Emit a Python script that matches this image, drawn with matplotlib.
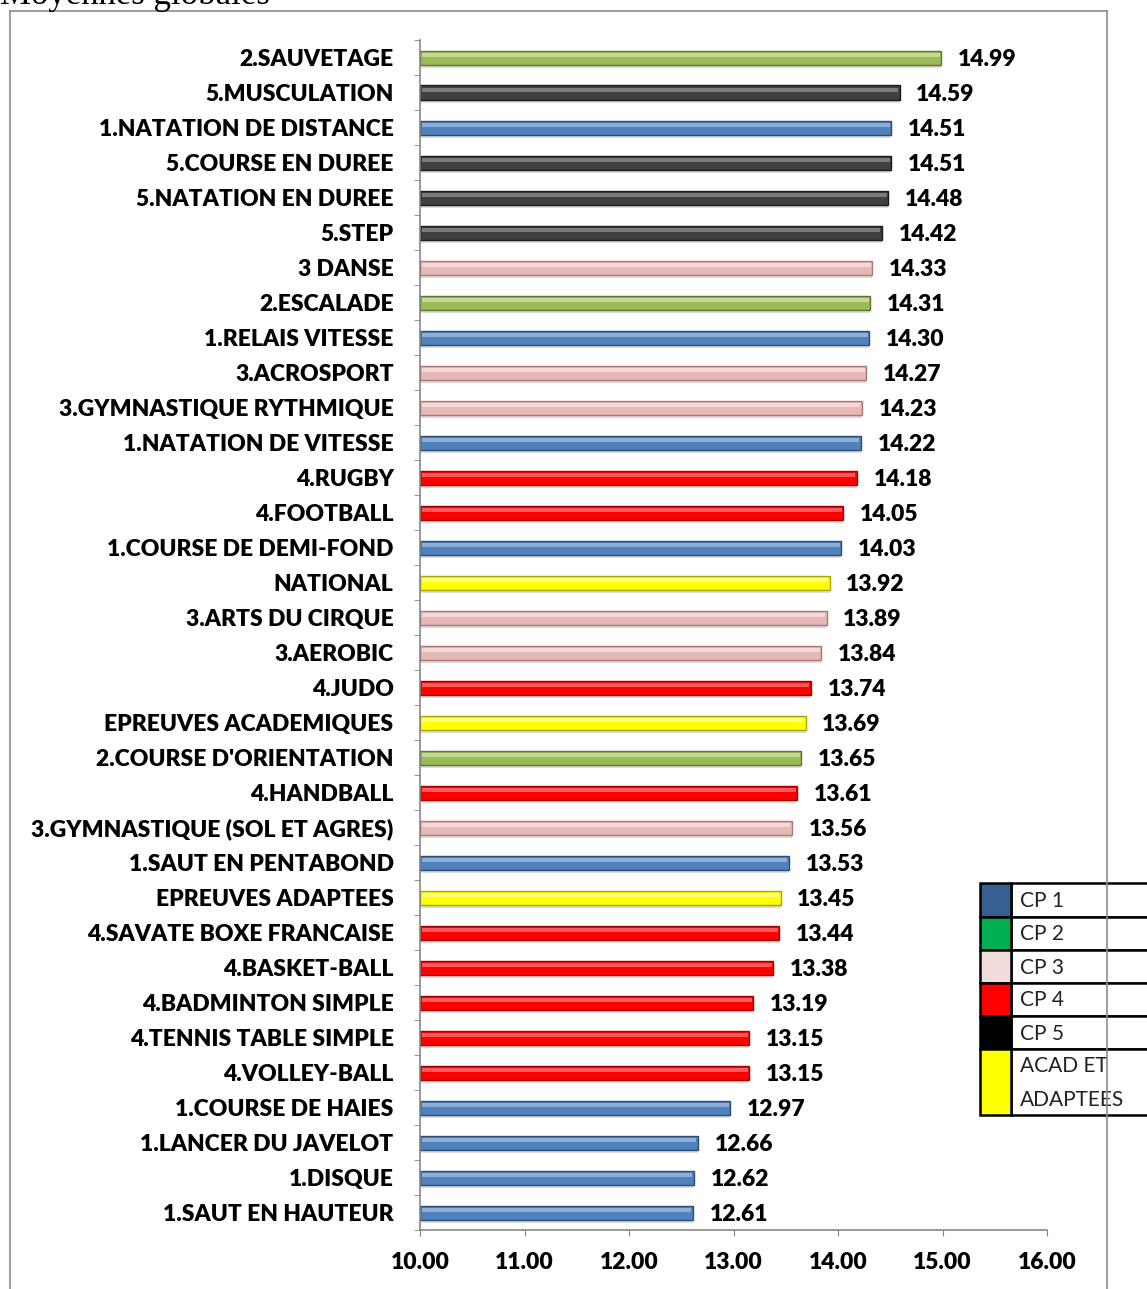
import matplotlib.pyplot as plt
import numpy as np
from matplotlib.patches import Rectangle
from matplotlib.lines import Line2D

labels = ['2.SAUVETAGE', '5.MUSCULATION', '1.NATATION DE DISTANCE', '5.COURSE EN DUREE',
          '5.NATATION EN DUREE', '5.STEP', '3 DANSE', '2.ESCALADE', '1.RELAIS VITESSE',
          '3.ACROSPORT', '3.GYMNASTIQUE RYTHMIQUE', '1.NATATION DE VITESSE', '4.RUGBY',
          '4.FOOTBALL', '1.COURSE DE DEMI-FOND', 'NATIONAL', '3.ARTS DU CIRQUE', '3.AEROBIC',
          '4.JUDO', 'EPREUVES ACADEMIQUES', "2.COURSE D'ORIENTATION", '4.HANDBALL',
          '3.GYMNASTIQUE (SOL ET AGRES)', '1.SAUT EN PENTABOND', 'EPREUVES ADAPTEES',
          '4.SAVATE BOXE FRANCAISE', '4.BASKET-BALL', '4.BADMINTON SIMPLE',
          '4.TENNIS TABLE SIMPLE', '4.VOLLEY-BALL', '1.COURSE DE HAIES', '1.LANCER DU JAVELOT',
          '1.DISQUE', '1.SAUT EN HAUTEUR']
values = [14.99, 14.59, 14.51, 14.51, 14.48, 14.42, 14.33, 14.31, 14.30, 14.27, 14.23, 14.22,
          14.18, 14.05, 14.03, 13.92, 13.89, 13.84, 13.74, 13.69, 13.65, 13.61, 13.56, 13.53,
          13.45, 13.44, 13.38, 13.19, 13.15, 13.15, 12.97, 12.66, 12.62, 12.61]
groups = ['CP2', 'CP5', 'CP1', 'CP5', 'CP5', 'CP5', 'CP3', 'CP2', 'CP1', 'CP3', 'CP3', 'CP1',
          'CP4', 'CP4', 'CP1', 'ACAD', 'CP3', 'CP3', 'CP4', 'ACAD', 'CP2', 'CP4', 'CP3', 'CP1',
          'ACAD', 'CP4', 'CP4', 'CP4', 'CP4', 'CP4', 'CP1', 'CP1', 'CP1', 'CP1']

# bar colours (face, edge, highlight)
bar_colors = {
    'CP1': ('#4F81BD', '#2C4D75', '#9DBBE0'),
    'CP2': ('#9BBB59', '#5F7530', '#CDE3A0'),
    'CP3': ('#E6B9B8', '#B07675', '#F8E0DF'),
    'CP4': ('#FF0000', '#A00000', '#FF7070'),
    'CP5': ('#404040', '#1A1A1A', '#8A8A8A'),
    'ACAD': ('#FFFF00', '#A6A600', '#FFFF99'),
}

legend_labels = ['CP 1', 'CP 2', 'CP 3', 'CP 4', 'CP 5', 'ACAD ET\nADAPTEES']
legend_colors = ['#376092', '#00B050', '#F2DCDB', '#FF0000', '#000000', '#FFFF00']

plt.rcParams['font.family'] = ['Lato', 'DejaVu Sans']

W, H = 1147, 1289
fig = plt.figure(figsize=(W / 100, H / 100), dpi=100)
ax = fig.add_axes([420 / W, 1 - 1230 / H, (1047 - 420) / W, (1230 - 40) / H])

n = len(labels)
y = np.arange(n)[::-1]
vals = np.array(values)
base = 10.0
faces = [bar_colors[g][0] for g in groups]
edges = [bar_colors[g][1] for g in groups]
lights = [bar_colors[g][2] for g in groups]

# soft shadow below, main bar, highlight stripe
ax.barh(y - 0.25, vals - base, left=base, height=0.08, color='#BBBBBB', alpha=0.5, zorder=1)
ax.barh(y, vals - base, left=base, height=0.4, color=faces, edgecolor=edges, linewidth=1.0, zorder=2)
ax.barh(y + 0.07, vals - base - 0.03, left=base + 0.015, height=0.1, color=lights, alpha=0.8,
        linewidth=0, zorder=3)

wt = 'heavy'
for yi, v in zip(y, vals):
    ax.annotate(f'{v:.2f}', (v, yi), xytext=(12, -1.5), textcoords='offset points',
                va='center', ha='left', fontsize=16.5, fontweight=wt, color='black')

ax.set_xlim(10, 16)
ax.set_ylim(-0.5, n - 0.5)
ax.set_xticks(np.arange(10, 17, 1))
ax.set_xticklabels([f'{t:.2f}' for t in np.arange(10, 17, 1)], fontsize=16.5, fontweight=wt)
ax.set_yticks(y)
ax.set_yticklabels(labels, fontsize=16.5, fontweight=wt)
ax.set_yticks(np.arange(-0.5, n, 1), minor=True)
ax.tick_params(axis='y', which='major', length=0, pad=19)
ax.tick_params(axis='y', which='minor', length=4.5, color='#868686', direction='out')
ax.tick_params(axis='x', which='major', length=4.5, color='#868686', pad=11)
for s in ['top', 'right']:
    ax.spines[s].set_visible(False)
for s in ['left', 'bottom']:
    ax.spines[s].set_color('#868686')
    ax.spines[s].set_linewidth(1.2)

# chart frame
fc = '#8C8C8C'
fig.add_artist(Line2D([10 / W, 10 / W], [0, 1 - 11 / H], color=fc, lw=1.2))
fig.add_artist(Line2D([10 / W, 1107 / W], [1 - 11 / H, 1 - 11 / H], color=fc, lw=1.2))

# title (cut off by the crop)
fig.text(0.0, 1 - 4 / H, 'Moyennes globales', family=['Liberation Serif', 'DejaVu Serif'],
         fontsize=25, va='baseline', ha='left')

# legend table
row_edges = [883, 917, 950, 983, 1016, 1049, 1115]
lx0, lx1, lx2 = 980, 1011, 1160
for i, (lab, col) in enumerate(zip(legend_labels, legend_colors)):
    top, bot = row_edges[i], row_edges[i + 1]
    fig.add_artist(Rectangle((lx1 / W, 1 - bot / H), (lx2 - lx1) / W, (bot - top) / H,
                             facecolor='white', edgecolor='black', lw=1.8, zorder=5))
    fig.add_artist(Rectangle((lx0 / W, 1 - bot / H), (lx1 - lx0) / W, (bot - top) / H,
                             facecolor=col, edgecolor='black', lw=1.8, zorder=6))
    fig.text(1020 / W, 1 - (top + bot + 2) / 2 / H, lab, fontsize=15, color='#222222',
             va='center', ha='left', linespacing=1.85, zorder=7)

fig.add_artist(Line2D([1107 / W, 1107 / W], [0, 1 - 11 / H], color=fc, lw=1.2, zorder=8))

fig.savefig('out.png', dpi=100, facecolor='white')
